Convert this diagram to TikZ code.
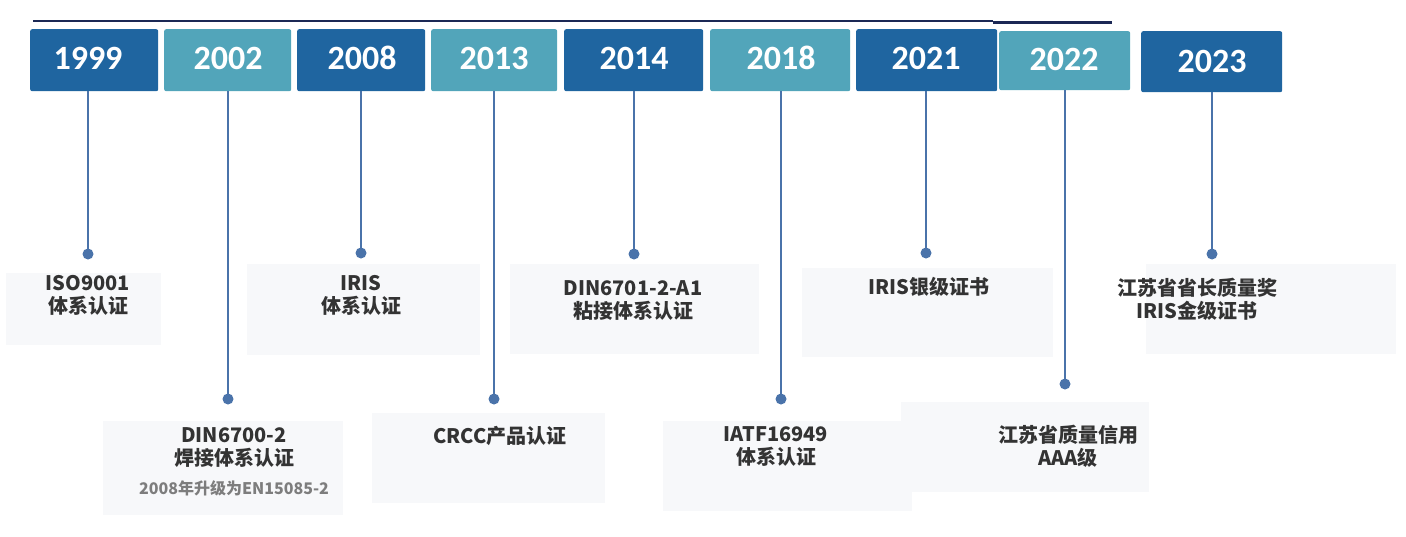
\documentclass[tikz,border=0pt]{standalone}
\usepackage{fontspec}
\newfontfamily\cjk{Noto Sans CJK SC}
\newfontfamily\yearfont{Carlito}
\definecolor{yeardark}{RGB}{31,101,160}
\definecolor{yearteal}{RGB}{82,165,186}
\definecolor{stemblue}{RGB}{74,115,170}
\definecolor{cardgray}{RGB}{247,248,250}
\definecolor{labeltext}{RGB}{51,51,51}
\definecolor{subtext}{RGB}{125,125,125}
\definecolor{topline}{RGB}{27,40,85}
\tikzset{
  yearbox/.style={rounded corners=2pt, inner sep=0pt, anchor=north west},
  yeardk/.style={yearbox, fill=yeardark},
  yeartl/.style={yearbox, fill=yearteal},
  yeartext/.style={text=white, inner sep=0pt, font=\yearfont\bfseries\fontsize{34}{34}\selectfont},
  stem/.style={draw=stemblue, line width=2pt},
  dotnode/.style={circle, fill=stemblue, inner sep=0pt, minimum size=11pt},
  card/.style={fill=cardgray, inner sep=0pt, anchor=north west},
  certlabel/.style={anchor=north, align=center, inner sep=0pt, text=labeltext,
    font=\cjk\bfseries\fontsize{20}{23}\selectfont},
  certsub/.style={anchor=north, inner sep=0pt, text=subtext,
    font=\cjk\bfseries\fontsize{16}{18}\selectfont},
  topstroke/.style={draw=topline, line width=2.4pt}
}
\begin{document}
\begin{tikzpicture}[x=1pt,y=-1pt]
\useasboundingbox (0,0) rectangle (1406,536);
% top rule
\coordinate (r0) at (33,21);
\coordinate (r1) at (993,21);
\coordinate (r2) at (993,22.5);
\coordinate (r3) at (1112,22.5);
\draw[topstroke] (r0) -- (r1);
\draw[topstroke] (r2) -- (r3);

% year boxes
\node[yeardk, minimum width=128pt, minimum height=62pt] (b1999) at (30,29) {};
\node[yeartl, minimum width=127pt, minimum height=62pt] (b2002) at (164,29) {};
\node[yeardk, minimum width=128pt, minimum height=62pt] (b2008) at (297,29) {};
\node[yeartl, minimum width=126pt, minimum height=62pt] (b2013) at (431,29) {};
\node[yeardk, minimum width=139pt, minimum height=62pt] (b2014) at (564,29) {};
\node[yeartl, minimum width=140pt, minimum height=62pt] (b2018) at (710,29) {};
\node[yeardk, minimum width=141pt, minimum height=62pt] (b2021) at (856,29) {};
\node[yeartl, minimum width=131pt, minimum height=59pt] (b2022) at (999,31) {};
\node[yeardk, minimum width=141pt, minimum height=61pt] (b2023) at (1141,31) {};

\node[yeartext] (t1999) at (88,58) {1999};
\node[yeartext] (t2002) at (228,58) {2002};
\node[yeartext] (t2008) at (362,58) {2008};
\node[yeartext] (t2013) at (494,58) {2013};
\node[yeartext] (t2014) at (634,58) {2014};
\node[yeartext] (t2018) at (781,58) {2018};
\node[yeartext] (t2021) at (926,58) {2021};
\node[yeartext] (t2022) at (1064,59) {2022};
\node[yeartext] (t2023) at (1212,61) {2023};

% cards
\node[card, minimum width=155pt, minimum height=72pt] (c1999) at (6,273) {};
\node[card, minimum width=240pt, minimum height=94pt] (c2002) at (103,421) {};
\node[card, minimum width=233pt, minimum height=91pt] (c2008) at (247,264) {};
\node[card, minimum width=233pt, minimum height=90pt] (c2013) at (372,413) {};
\node[card, minimum width=249pt, minimum height=90pt] (c2014) at (510,264) {};
\node[card, minimum width=249pt, minimum height=90pt] (c2018) at (663,421) {};
\node[card, minimum width=251pt, minimum height=89pt] (c2021) at (802,268) {};
\node[card, minimum width=248pt, minimum height=90pt] (c2022) at (901,402) {};
\node[card, minimum width=250pt, minimum height=90pt] (c2023) at (1146,264) {};

% labels
\node[certlabel] (l1999) at (88,275) {ISO9001\\体系认证};
\node[certlabel] (l2002) at (234,427) {DIN6700-2\\焊接体系认证};
\node[certsub] (s2002) at (234,480) {2008年升级为EN15085-2};
\node[certlabel] (l2008) at (361,275) {IRIS\\体系认证};
\node[certlabel] (l2013) at (500,426) {CRCC产品认证};
\node[certlabel] (l2014) at (633,280) {DIN6701-2-A1\\粘接体系认证};
\node[certlabel] (l2018) at (776,426) {IATF16949\\体系认证};
\node[certlabel] (l2021) at (929,277) {IRIS银级证书};
\node[certlabel] (l2022) at (1068,425) {江苏省质量信用\\AAA级};
\node[certlabel] (l2023) at (1197,278) {江苏省省长质量奖\\IRIS金级证书};

% dots
\node[dotnode] (d1999) at (88,254) {};
\node[dotnode] (d2002) at (228,399) {};
\node[dotnode] (d2008) at (361,253) {};
\node[dotnode] (d2013) at (494,399) {};
\node[dotnode] (d2014) at (634,254) {};
\node[dotnode] (d2018) at (781,399) {};
\node[dotnode] (d2021) at (926,253) {};
\node[dotnode] (d2022) at (1065,384) {};
\node[dotnode] (d2023) at (1212,254) {};

% stems
\foreach \y in {1999,2002,2008,2013,2014,2018,2021,2022,2023}{
  \draw[stem] (b\y.south -| d\y.center) -- (d\y.center);
}
\end{tikzpicture}
\end{document}
